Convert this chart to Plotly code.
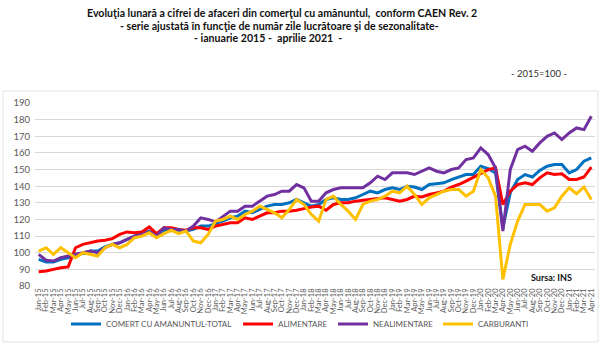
import plotly.graph_objects as go

MONTHS = ["Jan", "Feb", "Mar", "Apr", "May", "Jun", "Jul", "Aug", "Sep", "Oct", "Nov", "Dec"]
YEARS = ["15", "16", "17", "18", "19", "20", "21"]
CATEGORIES = [f"{m}-{y}" for y in YEARS for m in MONTHS][:76]

TOTAL = [96, 94.5, 94.5, 96, 97, 99, 99.5, 101, 101, 103.5, 105, 106, 108, 110, 111.5, 113, 110.5, 113.5, 113.5, 113.5,
         113, 114, 116, 116, 117.5, 119, 121, 122, 125, 124, 126, 128, 129, 129, 130, 132, 130, 128, 129, 132,
         133, 132, 132, 133, 135, 137, 136, 138, 139, 138, 140, 139.5, 138, 141, 141.5, 142, 144, 145.5, 147, 147,
         152, 150.5, 148, 115, 136, 144, 147, 145.5, 149.5, 152, 153, 153, 148, 150, 155, 157]
ALIMENTARE = [88.5, 89, 90, 91, 91.5, 103, 105, 106, 107, 107.5, 108.5, 111, 112.5, 112, 112.5, 115.5, 111.5, 115, 115, 114,
              113.5, 115, 115, 114, 116, 117, 118, 118, 121, 120, 122, 124, 124, 125, 125, 125.5, 126.5, 127.5, 128, 125.5,
              129, 130, 130, 131, 131.5, 132, 132.5, 133, 132, 131, 132, 134, 133.5, 135, 136, 137, 139.5, 141, 143, 145.5,
              148, 150, 151, 129, 137, 141, 142, 141, 145, 148, 147, 147.5, 144, 144, 145.5, 151.5]
NEALIMENTARE = [99, 95.5, 95, 97, 98, 99, 100, 101, 100, 103, 105, 106, 108, 110, 111, 112.5, 110, 115, 114, 114,
                113, 116, 121, 120, 118.5, 122, 125, 125, 128, 128, 131, 134, 135, 137, 137, 141, 139, 131, 131, 136,
                138, 139, 139, 139, 139, 142, 146, 144, 148, 148, 148, 147, 149, 151, 149, 148, 150, 151, 156, 157,
                163, 159, 151, 113, 150, 162, 164, 161, 166, 170, 172, 168, 172, 175, 174, 182]
CARBURANTI = [101, 103, 99, 103, 100, 97, 100, 99, 98, 103, 105, 103, 105, 109, 110, 112, 109, 111.5, 113.5, 111.5,
              113, 107, 106, 111, 119, 120, 122, 120, 123, 125, 128, 126, 124, 121, 126, 132, 129, 123, 119, 132,
              134, 129, 125, 120, 129, 131, 132, 134, 137, 136, 140, 135, 129, 133, 135, 137, 138, 138, 134, 137,
              150, 145, 134, 84, 105, 119, 129, 129, 129, 125, 127, 134, 139, 135.5, 139.5, 132]

SERIES = [
    ("COMERT CU AMANUNTUL-TOTAL", TOTAL, "#0070C0"),
    ("ALIMENTARE", ALIMENTARE, "#FF0000"),
    ("NEALIMENTARE", NEALIMENTARE, "#7030A0"),
    ("CARBURANTI", CARBURANTI, "#FFC000"),
]
LEGEND_PX = [66, 238, 333, 438]  # legend box left edges, pixels

W, H = 600, 344
ML, MR, MT, MB = 35, 5, 103, 58
PW, PH = W - ML - MR, H - MT - MB
FONT = "Lato, 'Open Sans', sans-serif"


def px(x):
    return (x - ML) / PW


def py(y):
    return (H - MB - y) / PH


xs = list(range(len(CATEGORIES)))
fig = go.Figure()
legend_names = ["legend", "legend2", "legend3", "legend4"]
for (name, vals, col), lg in zip(SERIES, legend_names):
    fig.add_trace(go.Scatter(x=xs, y=vals, name=name, mode="lines",
                             line=dict(color=col, width=3), legend=lg))

layout_legends = {}
for lg, lx in zip(legend_names, LEGEND_PX):
    layout_legends[lg] = dict(x=px(lx), xanchor="left", y=py(324), yanchor="middle",
                              orientation="h", font=dict(family=FONT, size=8, color="#595959"),
                              bgcolor="rgba(0,0,0,0)", borderwidth=0, itemwidth=30)

fig.update_layout(
    width=W, height=H,
    margin=dict(l=ML, r=MR, t=MT, b=MB, pad=0),
    paper_bgcolor="white", plot_bgcolor="white",
    font=dict(family=FONT, color="#595959"),
    showlegend=True,
    **layout_legends,
    xaxis=dict(range=[-0.5, len(CATEGORIES) - 0.5], tickmode="array", tickvals=xs, ticktext=CATEGORIES,
               tickangle=-90, tickfont=dict(size=7.5, color="#595959", family=FONT),
               showgrid=False, zeroline=False, showline=False, ticks=""),
    yaxis=dict(range=[80, 190], dtick=10, tick0=80, tickfont=dict(size=9.5, color="#595959", family=FONT),
               gridcolor="#d9d9d9", gridwidth=1, zeroline=False, showline=False, ticks="", ticklabelstandoff=4),
)

title_lines = [
    ("Evoluţia lunară a cifrei de afaceri din comerţul cu amănuntul,  conform CAEN Rev. 2", 282, 13),
    ("- serie ajustată în funcţie de număr zile lucrătoare şi de sezonalitate-", 279, 26),
    ("- ianuarie 2015 -  aprilie 2021  -", 268, 38),
]
for txt, x, y in title_lines:
    fig.add_annotation(text=f"<b>{txt}</b>", x=px(x), y=py(y), xref="paper", yref="paper",
                       xanchor="center", yanchor="middle", showarrow=False,
                       font=dict(family=FONT, size=10.6, color="#111111"))

fig.add_annotation(text="- 2015=100 -", x=px(569), y=py(73), xref="paper", yref="paper",
                   xanchor="right", yanchor="middle", showarrow=False,
                   font=dict(family=FONT, size=9.5, color="#333333"))
fig.add_annotation(text="<b>Sursa: INS</b>", x=px(574), y=py(277), xref="paper", yref="paper",
                   xanchor="right", yanchor="middle", showarrow=False,
                   font=dict(family=FONT, size=9, color="#111111"))

fig.add_shape(type="rect", xref="paper", yref="paper", x0=px(3), x1=px(598), y0=py(342), y1=py(91),
              line=dict(color="#e3e3e3", width=1), fillcolor="rgba(0,0,0,0)", layer="below")

fig.write_html("out.html")
